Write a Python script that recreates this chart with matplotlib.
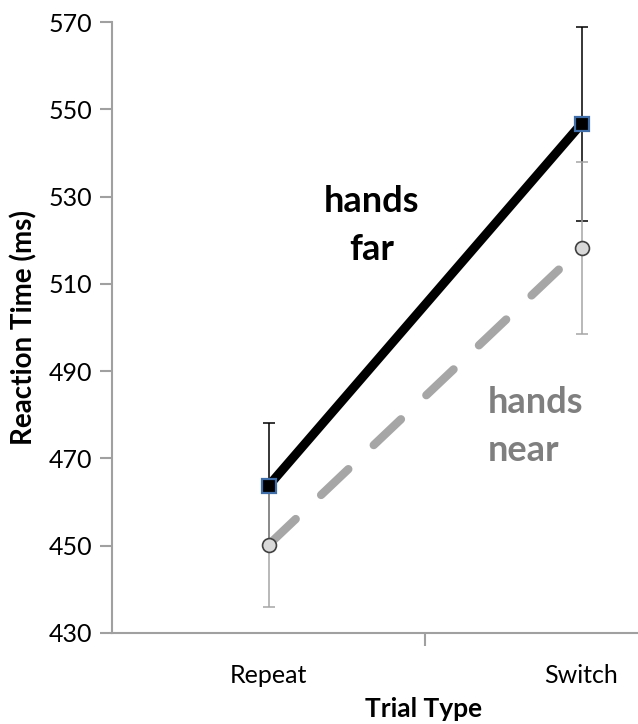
import matplotlib
matplotlib.use('Agg')
from matplotlib import pyplot as plt
from matplotlib.ticker import FixedLocator

# Trial types and reaction times (ms)
trial_types = ['Repeat', 'Switch']
far_rt = [463.7, 546.7]
far_err = [14.4, 22.2]
near_rt = [450.2, 518.2]
near_err = [14.2, 19.8]

y_ticks = [430, 450, 470, 490, 510, 530, 550, 570]

AXIS_GRAY = '#a0a0a0'
NEAR_GRAY = '#a6a6a6'

plt.rcParams['font.family'] = ['Lato', 'DejaVu Sans']

fig = plt.figure(figsize=(6.38, 7.24), dpi=100)
# axes runs past the right edge, as in the cropped original
ax = fig.add_axes([112 / 638, 1 - 633 / 724, 626 / 638, 611 / 724])

x = list(range(len(trial_types)))

# hands far
ax.errorbar(x, far_rt, yerr=far_err, fmt='none', ecolor='black',
            elinewidth=1.1, capsize=4, capthick=1.1, zorder=2)
ax.plot(x, far_rt, '-', color='black', linewidth=6.5, solid_capstyle='butt',
        zorder=3)
ax.plot(x, far_rt, 's', markersize=10.5, markerfacecolor='black',
        markeredgecolor='#3f6ea8', markeredgewidth=1.6, zorder=5)

# hands near
ax.errorbar(x, near_rt, yerr=near_err, fmt='none', ecolor=NEAR_GRAY,
            elinewidth=1.1, capsize=4, capthick=1.1, zorder=4)
ax.plot(x, near_rt, color=NEAR_GRAY, linewidth=6, dashes=(4.5, 4.2),
        dash_capstyle='round', zorder=3)
ax.plot(x, near_rt, 'o', markersize=10, markerfacecolor='#d9d9d9',
        markeredgecolor='#404040', markeredgewidth=1.2, zorder=5)

ax.set_xlim(-0.5, 1.5)
ax.set_ylim(430, 570)
ax.set_yticks(y_ticks)
ax.set_xticks(x)
ax.set_xticklabels(trial_types)
ax.xaxis.set_minor_locator(FixedLocator([0.5]))

ax.tick_params(axis='x', which='major', length=0, pad=22, labelsize=18)
ax.tick_params(axis='x', which='minor', length=9, width=1.5,
               color=AXIS_GRAY, direction='out')
ax.tick_params(axis='y', length=9, width=1.5, color=AXIS_GRAY,
               direction='out', pad=5, labelsize=18)

for side in ['top', 'right']:
    ax.spines[side].set_visible(False)
for side in ['left', 'bottom']:
    ax.spines[side].set_color(AXIS_GRAY)
    ax.spines[side].set_linewidth(1.5)

ax.set_ylabel('Reaction Time (ms)', fontsize=20, fontweight='bold', labelpad=8)
fig.text(424 / 638, 1 - 709 / 724, 'Trial Type', fontsize=19,
         fontweight='bold', ha='center', va='center')

ax.text(0.33, 523.3, 'hands\nfar', fontsize=26, fontweight='bold',
        color='black', ha='center', va='center', linespacing=1.55)
ax.text(0.70, 477.4, 'hands\nnear', fontsize=26, fontweight='bold',
        color='#7f7f7f', ha='left', va='center', linespacing=1.55)

fig.savefig('out.png', dpi=100)
